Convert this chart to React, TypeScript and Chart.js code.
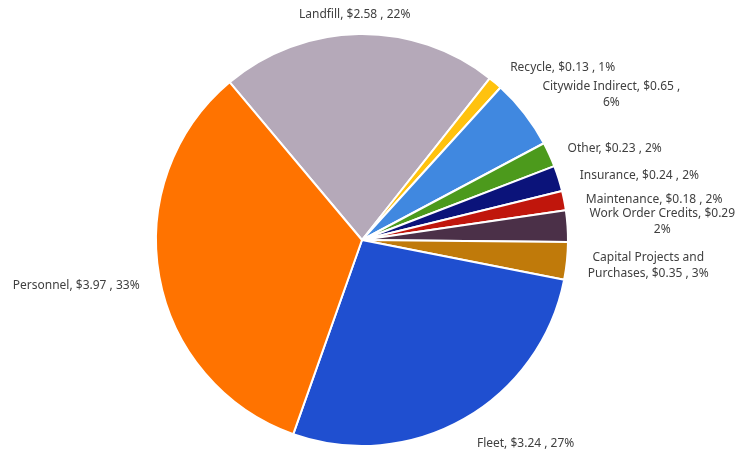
import React, { useEffect, useRef } from "react";
import { Chart, registerables } from "chart.js";

Chart.register(...registerables);

const categories = [
  "Landfill",
  "Recycle",
  "Citywide Indirect",
  "Other",
  "Insurance",
  "Maintenance",
  "Work Order Credits",
  "Capital Projects and Purchases",
  "Fleet",
  "Personnel",
];
const values = [2.58, 0.13, 0.65, 0.23, 0.24, 0.18, 0.29, 0.35, 3.24, 3.97];
const percents = ["22%", "1%", "6%", "2%", "2%", "2%", "2%", "3%", "27%", "33%"];
const labelLines: string[][] = [
  ["Landfill, $2.58 , 22%"],
  ["Recycle, $0.13 , 1%"],
  ["Citywide Indirect, $0.65 ,", "6%"],
  ["Other, $0.23 , 2%"],
  ["Insurance, $0.24 , 2%"],
  ["Maintenance, $0.18 , 2%"],
  ["Work Order Credits, $0.29", "2%"],
  ["Capital Projects and", "Purchases, $0.35 , 3%"],
  ["Fleet, $3.24 , 27%"],
  ["Personnel, $3.97 , 33%"],
];
const colors = [
  "#b5a9b9",
  "#ffc20e",
  "#4088e0",
  "#4c9a1c",
  "#0b137a",
  "#c0160c",
  "#4b3048",
  "#c07a0a",
  "#1f4fd0",
  "#ff7300",
];
// small nudges of label anchor (style only)
const labelNudge: [number, number][] = [
  [-4, 1],
  [2, 0],
  [2, -7],
  [0, 2],
  [2, 3],
  [2, 3],
  [2, -3],
  [1, 3],
  [3, 7],
  [0, 5],
];

const FONT = '12px "Noto Sans"';
const LINE_H = 16;

const labelPlugin = {
  id: "outsideLabels",
  afterDraw(chart: any) {
    const ctx = chart.ctx;
    const meta = chart.getDatasetMeta(0);
    ctx.save();
    ctx.font = FONT;
    ctx.fillStyle = "#404040";
    ctx.textBaseline = "middle";
    meta.data.forEach((arc: any, i: number) => {
      const { x, y, startAngle, endAngle, outerRadius } = arc.getProps(
        ["x", "y", "startAngle", "endAngle", "outerRadius"],
        true
      );
      const mid = (startAngle + endAngle) / 2;
      const R = outerRadius + 20;
      const ax = x + Math.cos(mid) * R + labelNudge[i][0];
      const ay = y + Math.sin(mid) * R + labelNudge[i][1];
      const lines = labelLines[i];
      const widths = lines.map((l) => ctx.measureText(l).width);
      const bw = Math.max(...widths);
      const dxFromCenter = ax - x;
      let left: number;
      if (Math.abs(dxFromCenter) < 40) left = ax - bw / 2;
      else if (dxFromCenter > 0) left = ax;
      else left = ax - bw;
      const top = ay - ((lines.length - 1) * LINE_H) / 2;
      ctx.textAlign = "center";
      lines.forEach((l, k) => {
        ctx.fillText(l, left + bw / 2, top + k * LINE_H);
      });
    });
    ctx.restore();
  },
};

export default function App() {
  const ref = useRef<HTMLCanvasElement | null>(null);
  useEffect(() => {
    document.body.style.margin = "0";
    const canvas = ref.current!;
    const chart = new Chart(canvas, {
      type: "pie",
      data: {
        labels: categories.map((c, i) => `${c}, $${values[i]} , ${percents[i]}`),
        datasets: [
          {
            data: values,
            backgroundColor: colors,
            borderColor: "#ffffff",
            borderWidth: 2,
          },
        ],
      },
      options: {
        responsive: false,
        animation: false,
        rotation: -40,
        layout: { padding: { left: 155, right: 178, top: 33, bottom: 6 } },
        plugins: {
          legend: { display: false },
          tooltip: { enabled: false },
        },
      },
      plugins: [labelPlugin],
    });
    return () => chart.destroy();
  }, []);
  return (
    <div style={{ width: 747, height: 453, background: "#fff" }}>
      <canvas ref={ref} width={747} height={453} style={{ display: "block" }} />
    </div>
  );
}
